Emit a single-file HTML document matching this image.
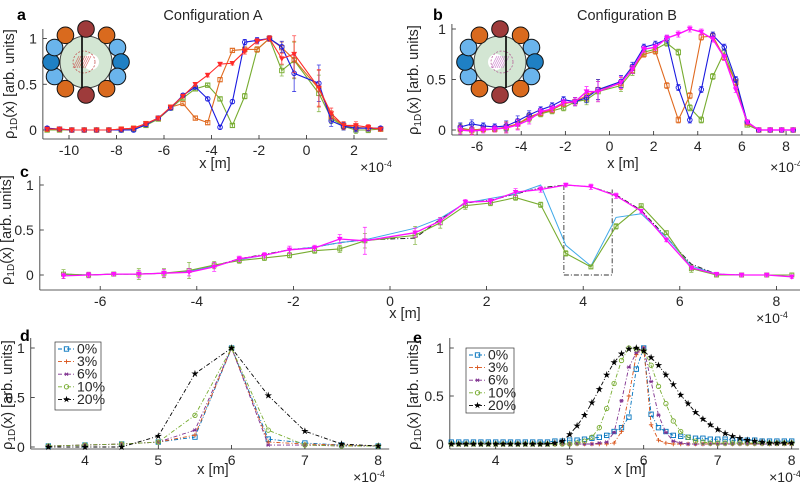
<!DOCTYPE html>
<html><head><meta charset="utf-8"><style>
html,body{margin:0;padding:0;background:#fff;}
svg{display:block;font-family:"Liberation Sans",sans-serif;}
.tk{font-size:14px;fill:#262626;}
.lb{font-size:14.5px;fill:#262626;}
</style></head><body>
<svg id="fig" width="800" height="486" viewBox="0 0 800 486" xmlns="http://www.w3.org/2000/svg"></svg>
<script>
// ---------- DATA ----------
const gridA = [-10.92,-10.4,-9.88,-9.36,-8.84,-8.32,-7.8,-7.28,-6.76,-6.24,-5.72,-5.2,-4.68,-4.16,-3.64,-3.12,-2.6,-2.08,-1.56,-1.04,-0.52,0.52,1.04,1.56,2.08,2.6,3.12];
const aRed    = [0.01,0.01,0,0,0,0,0.01,0.02,0.07,0.13,0.25,0.37,0.5,0.6,0.72,0.73,0.86,0.97,1.0,0.78,0.83,0.46,0.18,0.05,0.05,0.03,0.01];
const aOrange = [0.01,0.01,0,0,0,0,0.01,0.02,0.07,0.13,0.25,0.29,0.13,0.08,0.55,0.87,0.88,0.88,1.0,0.9,0.77,0.45,0.15,0.05,0.03,0.02,0.01];
const aBlue   = [0.02,0.01,0,0,0,0,0,0.0,0.06,0.13,0.24,0.38,0.47,0.34,0.03,0.31,0.96,0.98,1.0,0.91,0.62,0.51,0.1,0.04,0.02,0.02,0.02];
const aGreen  = [0,0,0,0,0,0,0,0.01,0.05,0.12,0.24,0.35,0.45,0.49,0.34,0.05,0.37,0.88,1.0,0.65,0.76,0.4,0.13,0.04,0,0,0.01];
const aErr    = [0.02,0.02,0.02,0.02,0.02,0.02,0.02,0.02,0.02,0.02,0.02,0.02,0.02,0.02,0.02,0.02,0.03,0.03,0.03,0.06,0.2,0.2,0.06,0.04,0.04,0.03,0.02];

const gridB = [-6.76,-6.24,-5.72,-5.2,-4.68,-4.16,-3.64,-3.12,-2.6,-2.08,-1.56,-1.04,-0.52,0.52,1.04,1.56,2.08,2.6,3.12,3.64,4.16,4.68,5.2,5.72,6.24,6.76,7.28,7.8,8.32];
const bMagenta = [0,-0.01,0,0.01,0.02,0.05,0.1,0.18,0.21,0.27,0.28,0.38,0.38,0.47,0.6,0.8,0.82,0.91,0.95,1.0,0.97,0.9,0.72,0.4,0.08,0,0,0,0];
const bBlue    = [0.03,0.06,0.04,0.03,0.04,0.09,0.15,0.2,0.24,0.3,0.28,0.32,0.4,0.48,0.63,0.82,0.85,0.9,0.42,0.1,0.4,0.94,0.82,0.5,0.08,0,0,0,0];
const bOrange  = [0.01,0.0,0.01,0.01,0.03,0.06,0.13,0.17,0.2,0.26,0.28,0.34,0.4,0.46,0.61,0.75,0.78,0.44,0.1,0.34,0.92,0.93,0.72,0.47,0.07,0,0,0,0];
const bGreen   = [0.02,0.0,0.01,0.01,0.02,0.06,0.12,0.16,0.19,0.22,0.28,0.3,0.38,0.44,0.58,0.77,0.8,0.86,0.77,0.22,0.1,0.53,0.77,0.47,0.05,0,0,0,0];
const bErr     = [0.04,0.04,0.03,0.03,0.05,0.05,0.04,0.03,0.03,0.03,0.04,0.05,0.1,0.06,0.04,0.03,0.03,0.03,0.03,0.03,0.03,0.03,0.03,0.03,0.02,0.02,0.02,0.02,0.02];

const cMagenta = [-0.01,0,0.01,0.01,0.02,0.03,0.09,0.18,0.22,0.28,0.3,0.4,0.38,0.47,0.6,0.81,0.82,0.92,0.95,1.0,0.98,0.88,0.71,0.39,0.08,0.01,0,0,-0.02];
const cGreen   = [0.01,0,0.01,0.01,0.02,0.05,0.11,0.16,0.19,0.22,0.27,0.29,0.38,0.44,0.58,0.77,0.8,0.86,0.78,0.24,0.09,0.54,0.77,0.47,0.07,0,0,0,0];
const cCyan    = [0.01,0,0.01,0.01,0.02,0.04,0.1,0.17,0.22,0.28,0.31,0.36,0.39,0.52,0.63,0.8,0.85,0.9,1.0,0.33,0.1,0.64,0.68,0.42,0.1,0.01,0,0,0];
const cBlack   = [0.01,0,0.01,0.01,0.02,0.04,0.1,0.18,0.23,0.28,0.31,0.36,0.39,0.41,0.62,0.8,0.83,0.9,0.97,1.0,0.98,0.89,0.72,0.42,0.12,0.01,0,0,0];
const cErrM    = [0.03,0.03,0.02,0.04,0.04,0.04,0.05,0.03,0.03,0.04,0.03,0.05,0.15,0.05,0.04,0.03,0.03,0.04,0.03,0.02,0.03,0.03,0.02,0.02,0.02,0.02,0.02,0.02,0.02];
const cErrG    = [0.05,0.03,0.02,0.06,0.05,0.09,0.04,0.03,0.03,0.03,0.03,0.04,0.08,0.1,0.06,0.04,0.03,0.03,0.03,0.03,0.02,0.03,0.02,0.02,0.04,0.02,0.02,0.02,0.02];
const cBoxX    = [3.6,4.6];

const gridD = [3.5,4,4.5,5,5.5,6,6.5,7,7.5,8];
const d0  = [0.01,0.02,0.03,0.05,0.1,1,0.08,0.04,0.02,0.01];
const d3  = [0.01,0.02,0.03,0.05,0.12,1,0.05,0.03,0.02,0.01];
const d6  = [0.01,0.02,0.03,0.05,0.17,1,0.02,0.02,0.01,0.01];
const d10 = [0.01,0.02,0.03,0.05,0.32,1,0.17,0.02,0.01,0.01];
const d20 = [0,0,0,0.11,0.74,1,0.52,0.16,0.03,0.01];

const gridE = [3.4,3.5,3.6,3.7,3.8,3.9,4.0,4.1,4.2,4.3,4.4,4.5,4.6,4.7,4.8,4.9,5.0,5.1,5.2,5.3,5.4,5.5,5.6,5.7,5.8,5.9,6.0,6.1,6.2,6.3,6.4,6.5,6.6,6.7,6.8,6.9,7.0,7.1,7.2,7.3,7.4,7.5,7.6,7.7,7.8,7.9,8.0];
const e0  = [0.02,0.02,0.02,0.02,0.02,0.02,0.02,0.02,0.02,0.02,0.02,0.02,0.02,0.02,0.03,0.03,0.04,0.04,0.05,0.06,0.07,0.09,0.13,0.17,0.28,0.78,1.0,0.31,0.17,0.13,0.09,0.08,0.07,0.06,0.06,0.05,0.05,0.05,0.04,0.04,0.04,0.04,0.03,0.03,0.03,0.03,0.03];
const e3  = [0,0,0,0,0,0,0,0,0,0,0,0,0,0,0,0,0,0,0,0,0,0,0.01,0.13,0.5,0.93,1.0,0.2,0.04,0.01,0,0,0,0,0,0,0,0,0,0,0,0,0,0,0,0,0];
const e6  = [0,0,0,0,0,0,0,0,0,0,0,0,0,0,0,0,0,0,0,0,0.01,0.02,0.12,0.45,0.8,0.95,1.0,0.65,0.3,0.12,0.03,0.01,0,0,0,0,0,0,0,0,0,0,0,0,0,0,0];
const e10 = [0,0,0,0,0,0,0,0,0,0,0,0,0,0,0,0,0,0.01,0.03,0.07,0.17,0.37,0.63,0.87,1.0,0.99,0.97,0.82,0.6,0.42,0.24,0.13,0.07,0.03,0.02,0.01,0.01,0.01,0.01,0.01,0.01,0.01,0.01,0.01,0.01,0.01,0.01];
const e20 = [0,0,0,0,0,0,0,0,0,0,0,0,0,0,0.01,0.03,0.1,0.19,0.3,0.43,0.57,0.72,0.85,0.94,0.99,1.0,0.97,0.9,0.82,0.72,0.62,0.51,0.42,0.33,0.26,0.2,0.15,0.11,0.08,0.06,0.04,0.03,0.02,0.01,0.01,0.01,0.01];
const legendLabels = ['0%','3%','6%','10%','20%'];

// ---------- DRAW ----------
const NS='http://www.w3.org/2000/svg';
const svg=document.getElementById('fig');
function el(tag,attrs,parent){const e=document.createElementNS(NS,tag);for(const k in attrs)e.setAttribute(k,attrs[k]);(parent||svg).appendChild(e);return e;}
function txt(x,y,s,cls,parent,anchor){const t=el('text',{x:x,y:y,class:cls,'text-anchor':anchor||'middle'},parent);t.textContent=s;return t;}
function mkAxes(name,xs,ys,x0,x1,ybot,ytop,xticks,yticks){
  const g=el('g',{});
  
  
  const L=xs(x0),R=xs(x1);
  el('line',{x1:L,y1:ybot,x2:R,y2:ybot,stroke:'#262626','stroke-width':0.8},g);
  el('line',{x1:L,y1:ybot,x2:L,y2:ytop,stroke:'#262626','stroke-width':0.8},g);
  xticks.forEach(t=>{const x=xs(t);el('line',{x1:x,y1:ybot,x2:x,y2:ybot-4,stroke:'#262626','stroke-width':0.8},g);txt(x,ybot+16,String(t),'tk',g);});
  yticks.forEach(t=>{const y=ys(t);el('line',{x1:L,y1:y,x2:L+4,y2:y,stroke:'#262626','stroke-width':0.8},g);txt(L-6,y+5,String(t),'tk',g,'end');});
  return g;
}
function marker(g,type,x,y,color,size){
  const s=size||2.6;
  if(type==='s')el('rect',{x:x-s,y:y-s,width:2*s,height:2*s,fill:'none',stroke:color,'stroke-width':0.9},g);
  else if(type==='o')el('circle',{cx:x,cy:y,r:s,fill:'none',stroke:color,'stroke-width':0.9},g);
  else if(type==='v')el('path',{d:`M${x-s},${y-s*0.8}L${x+s},${y-s*0.8}L${x},${y+s}Z`,fill:color,stroke:color,'stroke-width':0.6},g);
  else if(type==='+'){el('path',{d:`M${x-s},${y}H${x+s}M${x},${y-s}V${y+s}`,stroke:color,'stroke-width':0.9},g);}
  else if(type==='*'){el('path',{d:`M${x-s},${y}H${x+s}M${x-s*0.7},${y-s*0.7}L${x+s*0.7},${y+s*0.7}M${x-s*0.7},${y+s*0.7}L${x+s*0.7},${y-s*0.7}`,stroke:color,'stroke-width':0.9},g);}
  else if(type==='p'){let d='';for(let i=0;i<10;i++){const r=i%2?s*0.45:s*1.2;const a=-Math.PI/2+i*Math.PI/5;d+=(i?'L':'M')+(x+r*Math.cos(a))+','+(y+r*Math.sin(a));}el('path',{d:d+'Z',fill:color},g);}
}
function series(name,xs,ys,xv,yv,color,opt){
  const g=el('g',{});
  
  
  const pts=xv.map((x,i)=>xs(x)+','+ys(yv[i])).join(' ');
  const la={points:pts,fill:'none',stroke:color,'stroke-width':opt.w||1.1};
  if(opt.dash)la['stroke-dasharray']=opt.dash;
  el('polyline',la,g);
  if(opt.err){xv.forEach((x,i)=>{const e=opt.err[i];const px=xs(x);const y1=ys(yv[i]-e),y2=ys(yv[i]+e);
    el('path',{d:`M${px},${y1}V${y2}M${px-2},${y1}H${px+2}M${px-2},${y2}H${px+2}`,stroke:color,'stroke-width':0.8,opacity:0.85},g);});}
  if(opt.m)xv.forEach((x,i)=>marker(g,opt.m,xs(x),ys(yv[i]),color,opt.ms));
  return g;
}
function ylabel(x,y){
  const t=el('text',{x:0,y:0,class:'lb',transform:`translate(${x},${y}) rotate(-90)`,'text-anchor':'middle'});
  
  
  t.innerHTML='\u03C1<tspan font-size="10" dy="3">1D</tspan><tspan dy="-3">(x) [arb. units]</tspan>';
}
function x10(x,y){
  const t=el('text',{x:x,y:y,class:'tk','text-anchor':'middle','font-size':'12'});
  
  
  t.innerHTML='\u00D710<tspan font-size="9" dy="-5">-4</tspan>';
}
function letter(x,y,s){const t=el('text',{x:x,y:y,'font-weight':'bold','font-size':'16','text-anchor':'start',fill:'#000'});t.textContent=s;
  
  }
function xlab(x,y){const t=txt(x,y,'x [m]','lb');
  
  }
function title(x,y,s,name){const t=txt(x,y,s,'lb');t.setAttribute('font-size','16');
  
  }
function inset(cx,cy,lineDx,mirror){
  const g=el('g',{});
  
  
  el('circle',{cx:cx,cy:cy,r:26,fill:'#d3e6d3',stroke:'#444','stroke-width':1},g);
  const hx=cx+(mirror?2:-2);
  el('circle',{cx:cx+(mirror?-4:5),cy:cy,r:8,fill:'#fff'},g);
  el('circle',{cx:hx,cy:cy,r:11,fill:'none',stroke:mirror?'#b05090':'#c04040','stroke-width':0.7,'stroke-dasharray':'2,1.5'},g);
  for(let k=-3;k<=3;k++)el('line',{x1:hx-5+k*2,y1:cy+6,x2:hx+1+k*2,y2:cy-6,stroke:mirror?'#c060c0':'#d04040','stroke-width':0.6,opacity:0.8},g);
  el('line',{x1:cx+lineDx,y1:cy-26,x2:cx+lineDx,y2:cy+26,stroke:'#000','stroke-width':1.6},g);
  const ring=[[0,'#9e3b3b'],[36,'#d96a1e'],[64,'#6ab4ec'],[90,'#1f80c4'],[116,'#6ab4ec'],[144,'#d96a1e'],[180,'#9e3b3b'],[216,'#d96a1e'],[244,'#6ab4ec'],[270,'#1f80c4'],[296,'#6ab4ec'],[324,'#d96a1e']];
  ring.forEach(([a,c])=>{const r=a*Math.PI/180;el('circle',{cx:cx+35*Math.sin(r),cy:cy-33*Math.cos(r),r:8.3,fill:c,stroke:'#111','stroke-width':1},g);});
}

// ---- Panel a ----
const axS=x=>306.5+23.75*x, ayS=v=>130-91.5*v;
mkAxes('panel-a',axS,ayS,-11.1,3.4,139,29,[-10,-8,-6,-4,-2,0,2],[0,0.5,1]);
series('series-a-green',axS,ayS,gridA,aGreen,'#77ac30',{m:'s',err:aErr,ms:2.2});
series('series-a-orange',axS,ayS,gridA,aOrange,'#e06a20',{m:'s',err:aErr,ms:2.2});
series('series-a-blue',axS,ayS,gridA,aBlue,'#1a1ae0',{m:'o',err:aErr,ms:2.3});
series('series-a-red',axS,ayS,gridA,aRed,'#ff2a2a',{m:'v',err:aErr,ms:2.4});
inset(86,62,-4,false);
letter(17,20,'a');
title(213,20,'Configuration A','title-configuration-a');
xlab(215,168); x10(376,172); ylabel(14,84);

// ---- Panel b ----
const bxS=x=>609.5+22.07*x, byS=v=>130-101*v;
mkAxes('panel-b',bxS,byS,-7.14,8.63,135,24,[-6,-4,-2,0,2,4,6,8],[0,0.5,1]);
series('series-b-green',bxS,byS,gridB,bGreen,'#77ac30',{m:'s',err:bErr,ms:2.2});
series('series-b-orange',bxS,byS,gridB,bOrange,'#e06a20',{m:'s',err:bErr,ms:2.2});
series('series-b-blue',bxS,byS,gridB,bBlue,'#1a1ae0',{m:'o',err:bErr,ms:2.3});
series('series-b-magenta',bxS,byS,gridB,bMagenta,'#ff10ff',{m:'v',err:bErr,ms:2.4,w:1.4});
inset(500,62,6,true);
letter(433,20,'b');
title(627,20,'Configuration B','title-configuration-b');
xlab(623,168); x10(786,172); ylabel(418,80);

// ---- Panel c ----
const cxS=x=>390+48.3*x, cyS=v=>275-90*v;
mkAxes('panel-c',cxS,cyS,-7.25,8.5,290,176,[-6,-4,-2,0,2,4,6,8],[0,0.5,1]);
(function(){const g=el('g',{});


el('path',{d:`M${cxS(cBoxX[0])},${cyS(1)}V${cyS(0)}H${cxS(cBoxX[1])}V${cyS(0.95)}`,fill:'none',stroke:'#333','stroke-width':0.9,'stroke-dasharray':'5,2,1,2'},g);})();
series('series-c-black',cxS,cyS,gridB,cBlack,'#222',{dash:'5,2,1,2',w:1});
series('series-c-cyan',cxS,cyS,gridB,cCyan,'#3fa9e8',{w:1});
series('series-c-green',cxS,cyS,gridB,cGreen,'#77ac30',{m:'s',err:cErrG,ms:2});
series('series-c-magenta',cxS,cyS,gridB,cMagenta,'#ff10ff',{m:'v',err:cErrM,ms:2.3,w:1.3});
letter(20,177,'c');
xlab(405,318); x10(772,323); ylabel(11,230);

// ---- Panel d ----
const dxS=x=>85+73.3*(x-4), dyS=v=>447-99*v;
mkAxes('panel-d',dxS,dyS,3.26,8.15,449,338,[4,5,6,7,8],[0,0.5,1]);
const lc=['#0072bd','#d95319','#7e2f8e','#77ac30','#000'], lm=['s','+','*','o','p'];
[d0,d3,d6,d10,d20].forEach((arr,i)=>series('series-d-'+legendLabels[i].replace('%','pct'),dxS,dyS,gridD,arr,lc[i],{m:lm[i],dash:'4,2,1,2',w:0.9,ms:i==4?3.2:2.2}));
letter(20,341,'d');
xlab(213,474); x10(369,482); ylabel(12,395);

// ---- Panel e ----
const exS=x=>495.7+74*(x-4), eyS=v=>444-96*v;
mkAxes('panel-e',exS,eyS,3.38,8.1,449,338,[4,5,6,7,8],[0,0.5,1]);
[e0,e3,e6,e10,e20].forEach((arr,i)=>series('series-e-'+legendLabels[i].replace('%','pct'),exS,eyS,gridE,arr,lc[i],{m:lm[i],dash:'4,2,1,2',w:0.9,ms:i==4?3.2:2.2}));
letter(413,343,'e');
xlab(630,474); x10(785,482); ylabel(418,395);

// ---- Legends ----
function legend(x,y,w,h,name){
  const g=el('g',{});
  
  
  el('rect',{x:x,y:y,width:w,height:h,fill:'#fff',stroke:'#333','stroke-width':0.7},g);
  legendLabels.forEach((s,i)=>{const yy=y+7+i*12.6;
    const e=el('g',{},g);
    
    
    el('line',{x1:x+3,y1:yy,x2:x+20,y2:yy,stroke:lc[i],'stroke-dasharray':'4,2,1,2','stroke-width':0.9},e);
    marker(e,lm[i],x+11.5,yy,lc[i],i==4?3:2.2);
    const t=txt(x+22,yy+4.5,s,'tk',e,'start');t.setAttribute('font-size','12.5');});
}
legend(55,342,46,68,'legend-d');
legend(466,348,48,65,'legend-e');
</script>
</body></html>
